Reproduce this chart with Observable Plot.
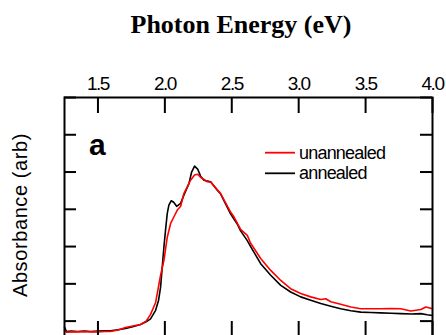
<!DOCTYPE html>
<html><head><meta charset="utf-8">
<script src="https://cdn.jsdelivr.net/npm/d3@7"></script>
<script src="https://cdn.jsdelivr.net/npm/@observablehq/plot@0.6"></script>
<style>
html,body{margin:0;padding:0;background:#fff;overflow:hidden;width:446px;height:335px}
#chart{position:relative;width:446px;height:335px;overflow:hidden}
svg{display:block}
</style></head><body><div id="chart"></div>
<script>
const energyAnnealed = [1.25,1.265,1.30,1.35,1.40,1.444,1.50,1.55,1.594,1.65,1.706,1.76,1.818,1.86,1.893,1.931,1.953,1.968,1.993,2.005,2.018,2.030,2.048,2.066,2.088,2.118,2.142,2.180,2.200,2.222,2.245,2.267,2.292,2.342,2.392,2.417,2.492,2.542,2.566,2.616,2.641,2.716,2.791,2.866,2.940,3.015,3.090,3.165,3.24,3.314,3.39,3.464,3.54,3.613,3.69,3.763,3.84,3.913,3.96,4.0];
const absAnnealed = [-0.16,-0.28,-0.27,-0.28,-0.27,-0.28,-0.27,-0.26,-0.26,-0.23,-0.20,-0.15,-0.09,-0.02,0.06,0.29,0.56,0.91,1.99,2.44,2.89,3.11,3.23,3.19,3.08,3.16,3.38,3.69,4.00,4.16,4.08,3.89,3.78,3.74,3.51,3.41,2.87,2.60,2.42,2.16,2.00,1.54,1.23,0.96,0.78,0.65,0.56,0.47,0.40,0.33,0.28,0.24,0.23,0.22,0.21,0.20,0.19,0.20,0.17,0.15];
const energyUnannealed = [1.25,1.265,1.30,1.35,1.40,1.444,1.50,1.55,1.594,1.65,1.706,1.76,1.818,1.86,1.893,1.931,1.968,1.993,2.018,2.043,2.068,2.093,2.118,2.142,2.192,2.222,2.245,2.267,2.317,2.342,2.417,2.492,2.516,2.566,2.616,2.641,2.716,2.791,2.866,2.940,3.015,3.090,3.165,3.202,3.24,3.314,3.39,3.464,3.54,3.613,3.69,3.763,3.838,3.913,3.950,4.0];
const absUnannealed = [-0.25,-0.30,-0.29,-0.29,-0.28,-0.29,-0.29,-0.28,-0.28,-0.24,-0.17,-0.13,-0.09,0.00,0.18,0.50,1.23,1.63,2.25,2.62,2.80,2.98,3.08,3.42,3.78,3.92,3.94,3.86,3.74,3.73,3.42,2.92,2.80,2.46,2.30,2.09,1.68,1.36,1.09,0.87,0.74,0.65,0.58,0.60,0.52,0.45,0.38,0.33,0.33,0.33,0.34,0.33,0.27,0.31,0.38,0.33];
const xTicks = [1.5,2.0,2.5,3.0,3.5,4.0];
const yTicks = [0,1,2,3,4,5,6];
const seriesNames = ["unannealed","annealed"];
const seriesColors = ["#ff0000","#000000"];
const titleText = "Photon Energy (eV)";
const yLabelText = "Absorbance (arb)";
const panelLabel = "a";

const annealed = energyAnnealed.map((e,i)=>({E:e, A:absAnnealed[i]}));
const unannealed = energyUnannealed.map((e,i)=>({E:e, A:absUnannealed[i]}));

const W=446,H=340,mL=64,mR=14,mT=97,mB=3;
const fw=W-mL-mR, fh=H-mT-mB;
const sans="'Liberation Sans', Arial, sans-serif";

const chart = Plot.plot({
  width:W, height:H, marginLeft:mL, marginRight:mR, marginTop:mT, marginBottom:mB,
  style:{background:"white", fontFamily:sans, color:"black"},
  x:{domain:[1.25,4.0], axis:null},
  y:{domain:[-0.44,6], axis:null},
  marks:[
    Plot.line(annealed,{x:"E",y:"A",stroke:seriesColors[1],strokeWidth:1.6}),
    Plot.line(unannealed,{x:"E",y:"A",stroke:seriesColors[0],strokeWidth:1.6}),
    Plot.frame({stroke:"black",strokeWidth:2}),
    Plot.tickX(xTicks,{x:d=>d,insetBottom:fh-16,strokeWidth:2}),
    Plot.tickX(xTicks,{x:d=>d,insetTop:fh-16,strokeWidth:2}),
    Plot.tickY(yTicks,{y:d=>d,insetRight:fw-12,strokeWidth:2}),
    Plot.tickY(yTicks,{y:d=>d,insetLeft:fw-12,strokeWidth:2}),
    Plot.text(xTicks,{x:d=>d,frameAnchor:"top",dy:-8,lineAnchor:"bottom",text:d=>d.toFixed(1),fontSize:19,fill:"black"})
  ]
});
document.getElementById("chart").appendChild(chart);

const svg = d3.select(chart);
svg.selectAll("text").filter(function(){return /^\d\.\d$/.test(this.textContent);})
  .style("letter-spacing","-1.5px").style("font-size","19px");
svg.append("text").attr("x",241).attr("y",33.3).attr("text-anchor","middle")
  .attr("font-family","'Liberation Serif', 'Times New Roman', serif").attr("font-weight","bold")
  .attr("font-size",26).attr("fill","black").text(titleText);
svg.append("text").attr("transform","translate(27,215) rotate(-90)").attr("text-anchor","middle")
  .attr("font-family",sans).attr("font-size",20).attr("letter-spacing","0.6px").attr("fill","black").text(yLabelText);
svg.append("text").attr("x",89).attr("y",155).attr("text-anchor","start").attr("font-family",sans).attr("font-weight","bold")
  .attr("font-size",30).attr("fill","black").text(panelLabel);

const leg = svg.append("g");
seriesNames.forEach((name,i)=>{
  const y = 152.7 + i*20.6;
  leg.append("line").attr("x1",265).attr("x2",295).attr("y1",y).attr("y2",y)
    .attr("stroke",seriesColors[i]).attr("stroke-width",1.8);
  leg.append("text").attr("x",299).attr("y",y+5.8).attr("text-anchor","start").attr("font-family",sans).attr("font-size",18)
    .attr("letter-spacing","-0.8px").attr("fill","black").text(name);
});
</script></body></html>
